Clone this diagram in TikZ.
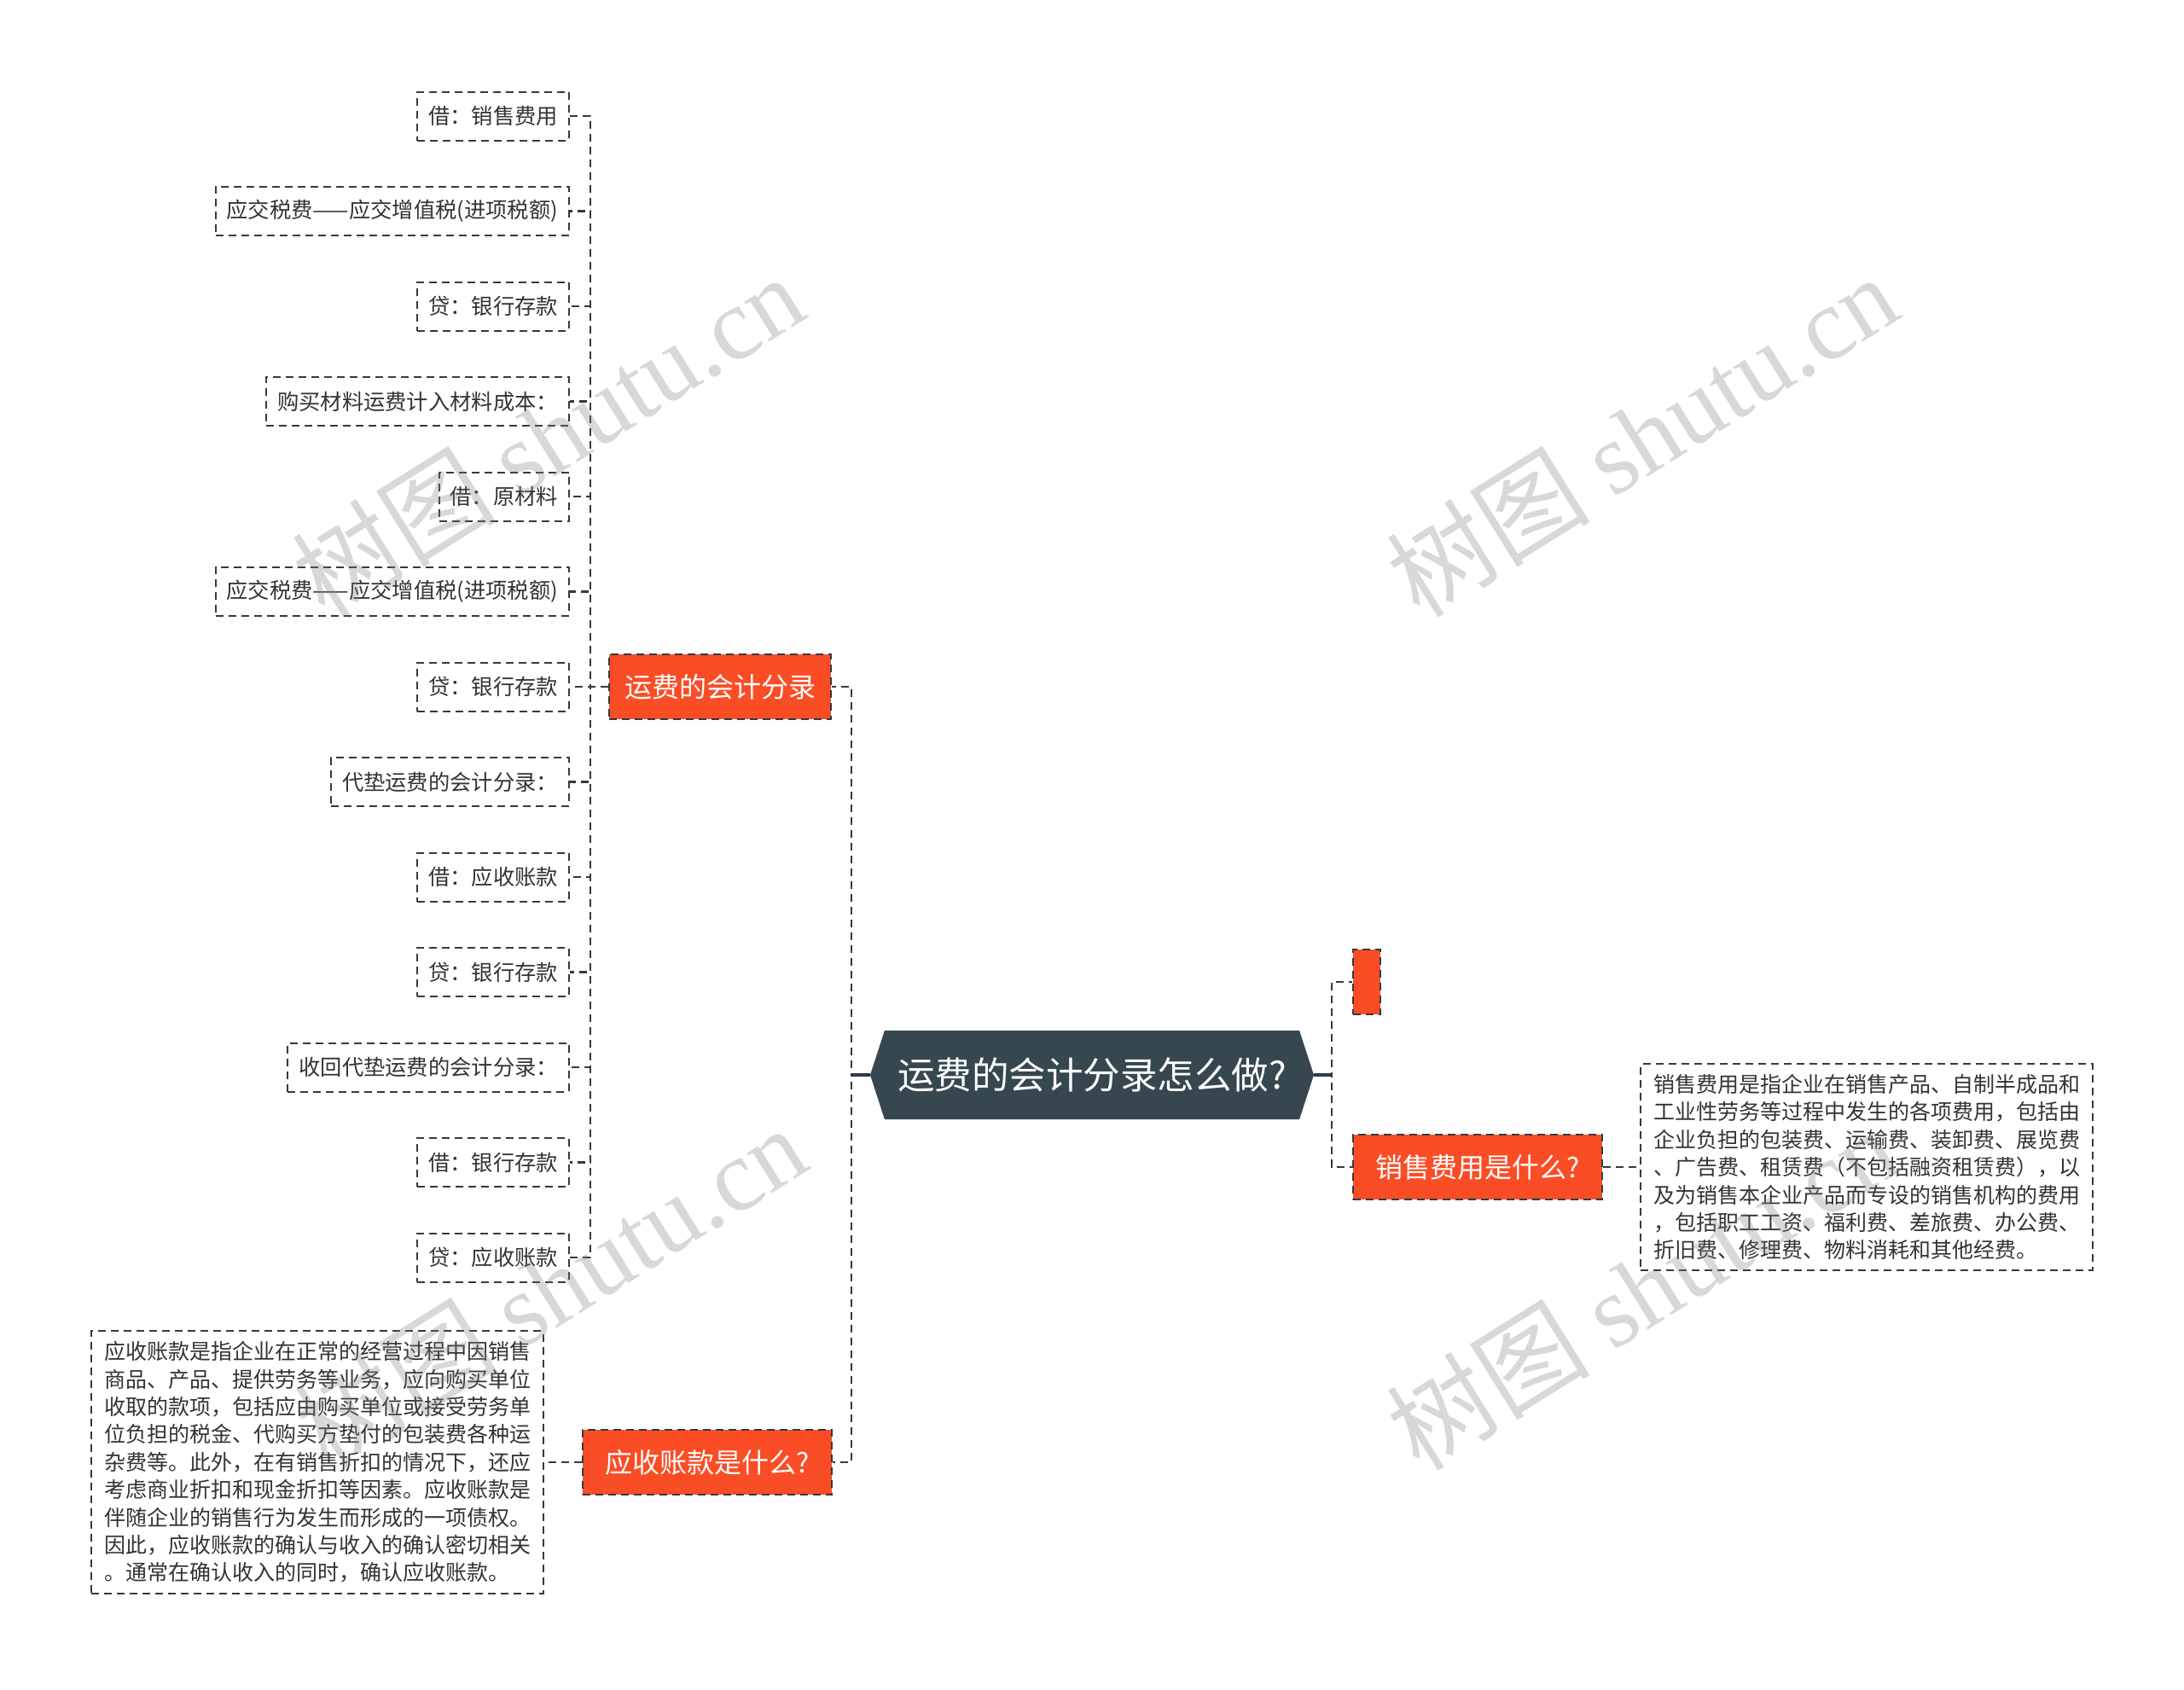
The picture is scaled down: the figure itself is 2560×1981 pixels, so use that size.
\documentclass[tikz,border=0pt]{standalone}
\usepackage{fontspec}
\setmainfont{Noto Sans CJK SC}
\newfontfamily\wmfont{Liberation Serif}
\usepackage{tikz}
\usetikzlibrary{shapes.symbols}
\definecolor{slate}{HTML}{37474F}
\definecolor{branchfill}{HTML}{FA4D26}
\definecolor{edgecol}{HTML}{2E3B48}
\definecolor{ink}{HTML}{333333}

\begin{document}
\begin{tikzpicture}[
    x=1pt, y=-1pt,
    root/.style={shape=signal, signal to=west and east, signal pointer angle=144,
                 fill=slate, text=white, minimum width=520pt, minimum height=104pt,
                 inner xsep=0pt, font=\fontsize{43.5}{48}\selectfont},
    branch/.style={draw=edgecol, fill=branchfill, dash pattern=on 9pt off 6pt,
                   line width=2pt, text=white, minimum height=76pt, inner xsep=18pt,
                   font=\fontsize{32}{38}\selectfont},
    leaf/.style={draw=edgecol, dash pattern=on 9pt off 6pt, line width=2pt,
                 anchor=east, minimum height=57pt, inner xsep=13pt, text=ink,
                 font=\fontsize{25.3}{30}\selectfont},
    note/.style={draw=edgecol, dash pattern=on 9pt off 6pt, line width=2pt,
                 align=left, inner xsep=15pt, inner ysep=12pt, text=ink,
                 font=\fontsize{25}{32.4}\selectfont},
    link/.style={draw=edgecol, dash pattern=on 9pt off 6pt, line width=2.4pt},
    stem/.style={draw=edgecol, line width=4pt},
    watermark/.style={text=gray, opacity=0.3, rotate=32,
                      font=\fontsize{120}{128}\selectfont},
  ]

  \fill[white] (0,0) rectangle (2560,1981);
  \useasboundingbox (0,0) rectangle (2560,1981);

  % ── Root ──
  \node[root] (root) at (1280,1260) {运费的会计分录怎么做?};

  % ── Main branches ──
  \node[branch, anchor=east] (yfentry) at (975,805) {运费的会计分录};
  \node[branch, anchor=east, minimum width=292pt] (yszk) at (976,1714)
    {应收账款是什么?};
  \node[branch, anchor=west, minimum width=32pt, inner xsep=0pt] (blank)
    at (1585,1151) {};
  \node[branch, anchor=west, minimum width=292pt] (xsfy) at (1585,1368)
    {销售费用是什么?};

  % ── Trunks ──
  \coordinate (ltrunk) at (692,0);
  \coordinate (mtrunk) at (998,0);
  \coordinate (rtrunk) at (1561,0);

  % ── Leaves: 运费的会计分录 ──
  \node[leaf] (l1) at (668,136) {借：销售费用};
  \node[leaf] (l2) at (668,247.5) {应交税费——应交增值税(进项税额)};
  \node[leaf] (l3) at (668,359) {贷：银行存款};
  \node[leaf] (l4) at (668,470.5) {购买材料运费计入材料成本：};
  \node[leaf] (l5) at (668,582) {借：原材料};
  \node[leaf] (l6) at (668,693.5) {应交税费——应交增值税(进项税额)};
  \node[leaf] (l7) at (668,805) {贷：银行存款};
  \node[leaf] (l8) at (668,916.5) {代垫运费的会计分录：};
  \node[leaf] (l9) at (668,1028) {借：应收账款};
  \node[leaf] (l10) at (668,1139.5) {贷：银行存款};
  \node[leaf] (l11) at (668,1251) {收回代垫运费的会计分录：};
  \node[leaf] (l12) at (668,1362.5) {借：银行存款};
  \node[leaf] (l13) at (668,1474) {贷：应收账款};

  % ── Notes ──
  \node[note, anchor=east] (ysnote) at (638,1714)
    {应收账款是指企业在正常的经营过程中因销售\\
     商品、产品、提供劳务等业务，应向购买单位\\
     收取的款项，包括应由购买单位或接受劳务单\\
     位负担的税金、代购买方垫付的包装费各种运\\
     杂费等。此外，在有销售折扣的情况下，还应\\
     考虑商业折扣和现金折扣等因素。应收账款是\\
     伴随企业的销售行为发生而形成的一项债权。\\
     因此，应收账款的确认与收入的确认密切相关\\
     。通常在确认收入的同时，确认应收账款。};
  \node[note, anchor=west] (xsnote) at (1922,1368)
    {销售费用是指企业在销售产品、自制半成品和\\
     工业性劳务等过程中发生的各项费用，包括由\\
     企业负担的包装费、运输费、装卸费、展览费\\
     、广告费、租赁费（不包括融资租赁费），以\\
     及为销售本企业产品而专设的销售机构的费用\\
     ，包括职工工资、福利费、差旅费、办公费、\\
     折旧费、修理费、物料消耗和其他经费。};

  % ── Links ──
  \foreach \i in {1,...,13}
    \draw[link] (yfentry.west) -- (yfentry.west -| ltrunk) |- (l\i.east);
  \draw[link] (root.west) -- (root.west -| mtrunk) |- (yfentry.east);
  \draw[link] (root.west) -- (root.west -| mtrunk) |- (yszk.east);
  \draw[stem] (root.west) -- (root.west -| mtrunk);
  \draw[link] (root.east) -- (root.east -| rtrunk) |- (blank.west);
  \draw[link] (root.east) -- (root.east -| rtrunk) |- (xsfy.west);
  \draw[stem] (root.east) -- (root.east -| rtrunk);
  \draw[link] (yszk.west) -- (ysnote.east);
  \draw[link] (xsfy.east) -- (xsnote.west);

  % ── Watermarks ──
  \node[watermark] (wm1) at (642,510) {树图 {\wmfont shutu.cn}};
  \node[watermark] (wm2) at (1924,510) {树图 {\wmfont shutu.cn}};
  \node[watermark] (wm3) at (645,1508) {树图 {\wmfont shutu.cn}};
  \node[watermark] (wm4) at (1924,1510) {树图 {\wmfont shutu.cn}};

\end{tikzpicture}
\end{document}
